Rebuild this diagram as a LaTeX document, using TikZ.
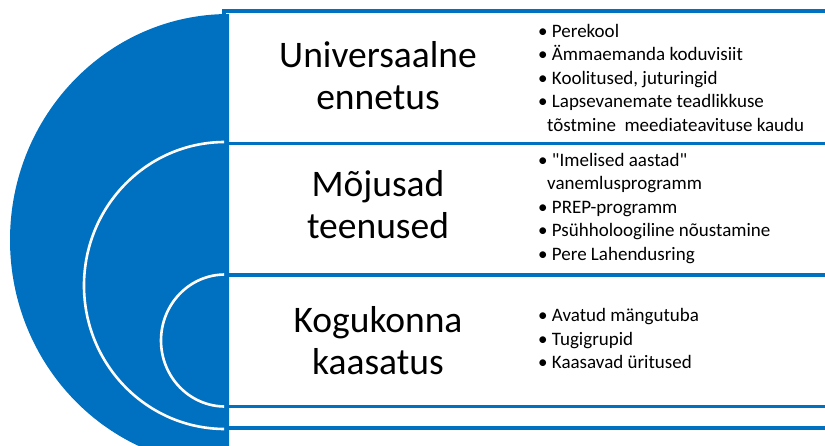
\documentclass[tikz,border=0pt]{standalone}
\usepackage{fontspec}
\setmainfont{Carlito}[Ligatures=TeXOff]
\usepackage{tikz}
\usetikzlibrary{
  positioning
}
\usepackage{xcolor}
\definecolor{ringBlue}{HTML}{0070C0}
\tikzset{
  rowbox/.style={
    draw=ringBlue,
    fill=white,
    line width=3.4pt
  },
  ringline/.style={
    draw=white,
    line width=2.6pt
  }
}

\begin{document}
\begin{tikzpicture}[
      x=1pt, y=-1pt,
      every node/.style={
        inner sep=0pt,
        text=black
      },
      titletext/.style={
        align=center,
        font=\fontsize{37.5}{42}\selectfont
      },
      listtext/.style={
        align=left,
        anchor=base west,
        font=\fontsize{19}{23.5}\selectfont
      }
      ]
      \useasboundingbox (0,0) rectangle (825,445);
      \clip (0,0) rectangle (825,445);

      % rows on the right
      \foreach \ya/\yb in {11/480, 143.5/428, 275/406.5}{
        \draw[rowbox] (224,\ya) rectangle (840,\yb);
      }

      % half disk with the nested rings
      \begin{scope}
        \clip (0,0) rectangle (229,445);
        \fill[ringBlue] (229,240) ellipse [x radius=219, y radius=226];
      \end{scope}
      \begin{scope}
        \clip (0,0) rectangle (224,445);
        \foreach \ym/\rx/\ry in {285.5/141/143.5, 340.5/64/66}{
          \draw[ringline] (225,\ym) ellipse [x radius=\rx, y radius=\ry];
        }
      \end{scope}

      \node[titletext] (universal) at (378,75.7) {Universaalne\\ennetus};
      \node[titletext] (services) at (378,205) {Mõjusad\\teenused};
      \node[titletext] (community) at (378,340.2) {Kogukonna\\kaasatus};

      % base anchor sits on the last line
      \node[listtext] (universalList) at (538,131) {\textbullet\ Perekool\\\textbullet\ Ämmaemanda koduvisiit\\\textbullet\ Koolitused, juturingid\\\textbullet\ Lapsevanemate teadlikkuse\\\hspace*{9pt}tõstmine\ \ meediateavituse kaudu};
      \node[listtext] (servicesList) at (538,260) {\textbullet\ "Imelised aastad"\\\hspace*{9pt}vanemlusprogramm\\\textbullet\ PREP-programm\\\textbullet\ Psühholoogiline nõustamine\\\textbullet\ Pere Lahendusring};
      \node[listtext] (communityList) at (538,368.7) {\textbullet\ Avatud mängutuba\\\textbullet\ Tugigrupid\\\textbullet\ Kaasavad üritused};
    \end{tikzpicture}
\end{document}
